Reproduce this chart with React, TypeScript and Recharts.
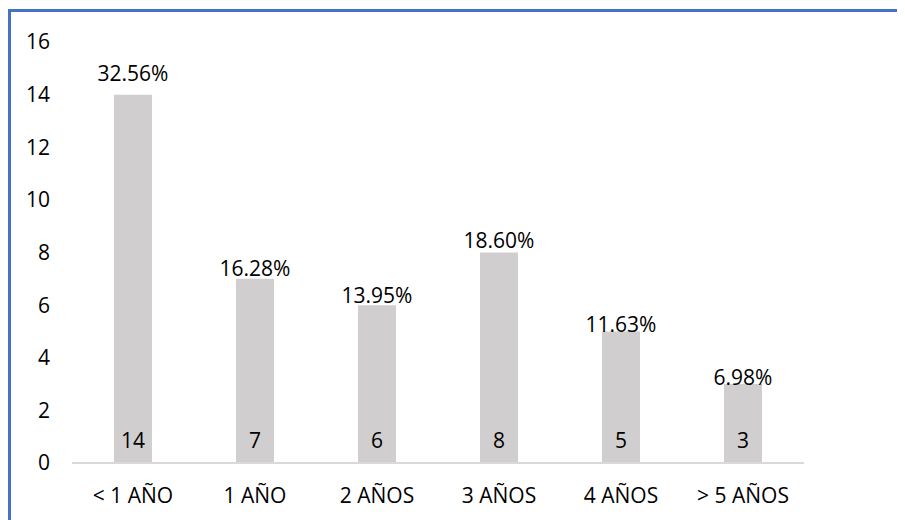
import { BarChart, Bar, XAxis, YAxis, LabelList } from 'recharts';

const categories = ['< 1 AÑO', '1 AÑO', '2 AÑOS', '3 AÑOS', '4 AÑOS', '> 5 AÑOS'];
const counts = [14, 7, 6, 8, 5, 3];
const percents = ['32.56%', '16.28%', '13.95%', '18.60%', '11.63%', '6.98%'];
const yTicks = [0, 2, 4, 6, 8, 10, 12, 14, 16];

// gap between bar top and its % label (labels were nudged by hand in the original)
const pctLabelGap = [14, 3, 2, 5, -1, -1];

const data = categories.map((name, i) => ({ name, count: counts[i], pct: percents[i] }));

const font = '"Open Sans", sans-serif';
const textStyle = { fontSize: 21, fill: '#000', fontFamily: font };

const PctLabel = (props: any) => {
    const { x, y, width, value, index } = props;
    return (
        <text
            x={x + width / 2}
            y={y - pctLabelGap[index]}
            textAnchor="middle"
            style={textStyle}
        >
            {value}
        </text>
    );
};

export default function App() {
    return (
        <div
            style={{
                width: 897,
                height: 512,
                marginTop: 1,
                borderTop: '3px solid #4472C4',
                borderLeft: '3px solid #4472C4',
                boxSizing: 'border-box',
                overflow: 'hidden',
                fontFamily: font,
            }}
        >
            <BarChart
                width={890}
                height={505}
                data={data}
                margin={{ top: 30, right: 97, bottom: 24, left: 0 }}
            >
                <XAxis
                    dataKey="name"
                    axisLine={{ stroke: '#D9D9D9', strokeWidth: 2 }}
                    tickLine={false}
                    tickSize={0}
                    tickMargin={25}
                    height={30}
                    tick={textStyle}
                    interval={0}
                />
                <YAxis
                    domain={[0, 16]}
                    ticks={yTicks}
                    axisLine={false}
                    tickLine={false}
                    tickSize={0}
                    tickMargin={22}
                    width={61}
                    tick={textStyle}
                />
                <Bar dataKey="count" fill="#D0CECE" barSize={38} isAnimationActive={false}>
                    <LabelList dataKey="pct" content={PctLabel} />
                    <LabelList dataKey="count" position="insideBottom" offset={15} style={textStyle} />
                </Bar>
            </BarChart>
        </div>
    );
}
